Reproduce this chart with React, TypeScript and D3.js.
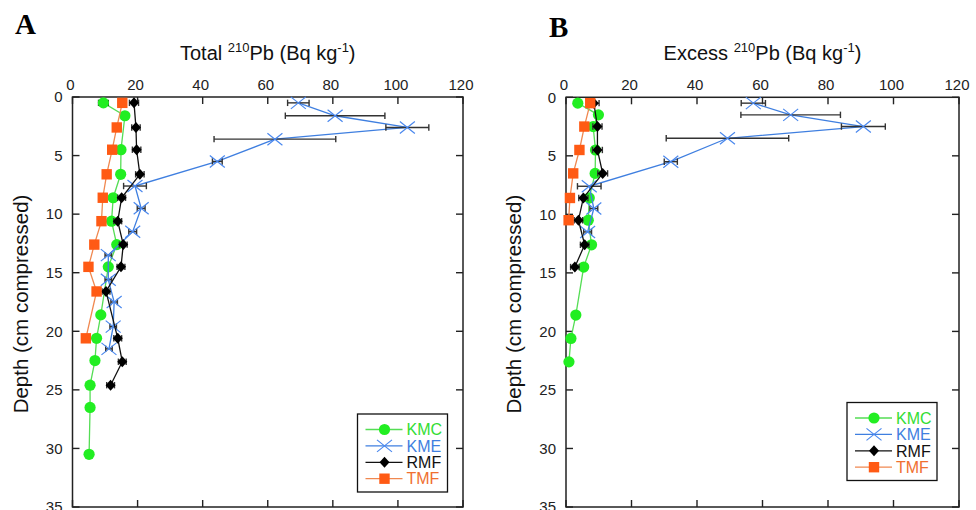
import { useEffect } from 'react';
import * as d3 from 'd3';

const xTicks = [0, 20, 40, 60, 80, 100, 120];
const depthTicks = [0, 5, 10, 15, 20, 25, 30, 35];

// Panel A: total 210Pb
const kmcDepthA = [0.5, 1.6, 4.5, 6.6, 8.6, 10.6, 12.6, 14.5, 18.6, 20.6, 22.5, 24.6, 26.5, 30.5];
const kmcTotal = [9.5, 16.1, 14.9, 14.8, 12.5, 12.0, 13.6, 11.0, 8.7, 7.4, 6.9, 5.4, 5.4, 5.1];
const kmcTotalErr = [1.5, 0.8, 0.8, 0.8, 0.8, 0.8, 0.8, 0.8, 0.8, 0.8, 0.8, 0.8, 0.8, 0.8];

const kmeDepthA = [0.5, 1.6, 2.6, 3.6, 5.5, 7.6, 9.5, 11.5, 13.5, 15.6, 17.5, 19.6, 21.5];
const kmeTotal = [69.4, 80.7, 102.9, 62.2, 44.5, 19.2, 21.1, 18.5, 11.0, 11.0, 12.8, 12.5, 11.2];
const kmeTotalErr = [3.3, 15.3, 6.6, 18.7, 1.5, 3.5, 1.2, 1.2, 1.0, 1.0, 1.0, 1.0, 1.0];

const rmfDepthA = [0.5, 2.6, 4.5, 6.6, 8.6, 10.6, 12.6, 14.5, 16.6, 20.6, 22.6, 24.6];
const rmfTotal = [18.9, 19.5, 19.7, 20.7, 15.1, 13.9, 15.6, 14.9, 10.3, 13.9, 15.3, 11.7];
const rmfTotalErr = [1.4, 1.3, 1.3, 1.3, 1.2, 1.2, 1.2, 1.2, 1.2, 1.2, 1.2, 1.2];

const tmfDepthA = [0.5, 2.6, 4.5, 6.6, 8.6, 10.6, 12.6, 14.5, 16.6, 20.6];
const tmfTotal = [15.3, 13.6, 12.2, 10.5, 9.3, 8.9, 6.7, 4.9, 7.4, 4.1];
const tmfTotalErr = [1.2, 1.2, 1.0, 1.0, 1.0, 1.0, 1.0, 1.0, 1.0, 1.0];

// Panel B: excess 210Pb
const kmcDepthB = [0.5, 1.5, 2.5, 4.5, 6.5, 8.6, 10.5, 12.6, 14.5, 18.6, 20.6, 22.6];
const kmcExcess = [3.6, 9.9, 8.3, 9.0, 8.9, 7.1, 6.8, 7.8, 5.4, 3.0, 1.5, 0.9];
const kmcExcessErr = [1.0, 0.8, 0.8, 0.8, 0.8, 0.8, 0.8, 0.8, 0.8, 0.8, 0.8, 0.8];

const kmeDepthB = [0.5, 1.5, 2.5, 3.5, 5.5, 7.6, 9.5, 11.5];
const kmeExcess = [57.2, 68.6, 90.8, 49.3, 32.0, 7.1, 8.5, 6.6];
const kmeExcessErr = [3.7, 15.2, 6.7, 18.7, 2.0, 3.6, 1.2, 1.2];

const rmfDepthB = [0.5, 2.5, 4.5, 6.5, 8.6, 10.5, 12.6, 14.5];
const rmfExcess = [8.5, 9.6, 9.6, 11.2, 5.3, 3.8, 5.7, 2.7];
const rmfExcessErr = [1.6, 1.4, 1.5, 1.5, 1.4, 1.3, 1.3, 1.3];

const tmfDepthB = [0.5, 2.5, 4.5, 6.5, 8.6, 10.5];
const tmfExcess = [7.4, 5.6, 4.1, 2.2, 1.2, 0.8];
const tmfExcessErr = [1.0, 1.0, 1.0, 1.0, 1.0, 1.0];

const seriesNames = ['KMC', 'KME', 'RMF', 'TMF'];

type Style = { line: string; marker: string; text: string; shape: string };
const styles: Record<string, Style> = {
  KMC: { line: '#55dd55', marker: '#22ee22', text: '#33dd33', shape: 'circle' },
  KME: { line: '#3f7fe0', marker: '#4a88ee', text: '#3f7fe0', shape: 'times' },
  RMF: { line: '#111111', marker: '#000000', text: '#111111', shape: 'diamond' },
  TMF: { line: '#f08850', marker: '#ff5a14', text: '#f07030', shape: 'square' },
};

type Series = { name: string; depth: number[]; value: number[]; err: number[] };

const panelA: Series[] = [
  { name: 'KMC', depth: kmcDepthA, value: kmcTotal, err: kmcTotalErr },
  { name: 'KME', depth: kmeDepthA, value: kmeTotal, err: kmeTotalErr },
  { name: 'RMF', depth: rmfDepthA, value: rmfTotal, err: rmfTotalErr },
  { name: 'TMF', depth: tmfDepthA, value: tmfTotal, err: tmfTotalErr },
];
const panelB: Series[] = [
  { name: 'KMC', depth: kmcDepthB, value: kmcExcess, err: kmcExcessErr },
  { name: 'KME', depth: kmeDepthB, value: kmeExcess, err: kmeExcessErr },
  { name: 'RMF', depth: rmfDepthB, value: rmfExcess, err: rmfExcessErr },
  { name: 'TMF', depth: tmfDepthB, value: tmfExcess, err: tmfExcessErr },
];

const FONT = "'Liberation Sans', Arial, Helvetica, sans-serif";

function Marker({ shape, x, y, color }: { shape: string; x: number; y: number; color: string }) {
  if (shape === 'circle') return <circle cx={x} cy={y} r={5.6} fill={color} />;
  if (shape === 'square') return <rect x={x - 5.2} y={y - 5.2} width={10.4} height={10.4} fill={color} />;
  if (shape === 'diamond')
    return <path d={`M${x},${y - 5.5}L${x + 5}, ${y}L${x},${y + 5.5}L${x - 5},${y}Z`} fill={color} />;
  const h = 7.5;
  return (
    <path
      d={`M${x - h},${y - h * 0.8}L${x + h},${y + h * 0.8}M${x - h},${y + h * 0.8}L${x + h},${y - h * 0.8}`}
      stroke={color}
      strokeWidth={1.2}
      fill="none"
    />
  );
}

type PanelProps = {
  letter: string;
  letterX: number;
  letterY: number;
  title: string;
  left: number;
  right: number;
  top: number;
  bottom: number;
  series: Series[];
  legendX: number;
  legendY: number;
};

function Panel({ letter, letterX, letterY, title, left, right, top, bottom, series, legendX, legendY }: PanelProps) {
  const x = d3.scaleLinear().domain([0, 120]).range([left, right]);
  const y = d3.scaleLinear().domain([0, 35]).range([top, bottom]);
  const tick = 7;
  const cx = (left + right) / 2;
  const cy = (top + bottom) / 2 + 2;

  return (
    <g fontFamily={FONT}>
      <text x={letterX} y={letterY} fontFamily="'Liberation Serif', 'Times New Roman', serif" fontWeight="bold" fontSize={29}>
        {letter}
      </text>
      <text x={cx} y={top - 37} textAnchor="middle" fontSize={20} fill="#111">
        {title + ' '}
        <tspan fontSize={13} dy={-8}>210</tspan>
        <tspan dy={8}>Pb (Bq kg</tspan>
        <tspan fontSize={13} dy={-8}>-1</tspan>
        <tspan dy={8}>)</tspan>
      </text>
      <text
        transform={`translate(${left - 45},${cy}) rotate(-90)`}
        textAnchor="middle"
        fontSize={20.5}
        fill="#111"
      >
        Depth (cm compressed)
      </text>

      {/* frame and inward ticks */}
      <rect x={left} y={top} width={right - left} height={bottom - top} fill="none" stroke="#222" strokeWidth={1.5} />
      {xTicks.map((t) => (
        <g key={'x' + t}>
          <line x1={x(t)} x2={x(t)} y1={top} y2={top + tick} stroke="#222" strokeWidth={1.4} />
          <line x1={x(t)} x2={x(t)} y1={bottom} y2={bottom - tick} stroke="#222" strokeWidth={1.4} />
          <text x={x(t) - 2} y={top - 7} textAnchor="middle" fontSize={15} fill="#222">
            {t}
          </text>
        </g>
      ))}
      {depthTicks.map((t) => (
        <g key={'y' + t}>
          <line x1={left} x2={left + tick} y1={y(t)} y2={y(t)} stroke="#222" strokeWidth={1.4} />
          <line x1={right} x2={right - tick} y1={y(t)} y2={y(t)} stroke="#222" strokeWidth={1.4} />
          <text x={left - 10} y={y(t)} dy="0.35em" textAnchor="end" fontSize={15} fill="#222">
            {t}
          </text>
        </g>
      ))}

      {/* series */}
      {series.map((s) => {
        const st = styles[s.name];
        const pts = s.depth.map((d, i) => [s.value[i], d] as [number, number]);
        const line = d3
          .line<[number, number]>()
          .x((p) => x(p[0]))
          .y((p) => y(p[1]));
        return (
          <g key={s.name}>
            <path d={line(pts) ?? ''} fill="none" stroke={st.line} strokeWidth={1.3} />
            {pts.map((p, i) => {
              const x0 = x(p[0] - s.err[i]);
              const x1 = x(p[0] + s.err[i]);
              const yy = y(p[1]);
              return (
                <g key={i} stroke="#333" strokeWidth={1.4}>
                  <line x1={x0} x2={x1} y1={yy} y2={yy} />
                  <line x1={x0} x2={x0} y1={yy - 3.2} y2={yy + 3.2} />
                  <line x1={x1} x2={x1} y1={yy - 3.2} y2={yy + 3.2} />
                </g>
              );
            })}
            {pts.map((p, i) => (
              <Marker key={i} shape={st.shape} x={x(p[0])} y={y(p[1])} color={st.marker} />
            ))}
          </g>
        );
      })}

      {/* legend */}
      <rect x={legendX} y={legendY} width={90} height={78} fill="#fff" stroke="#111" strokeWidth={1.3} />
      {seriesNames.map((n, i) => {
        const st = styles[n];
        const ly = legendY + 15.5 + i * 16.4;
        return (
          <g key={n}>
            <line x1={legendX + 8} x2={legendX + 45} y1={ly} y2={ly} stroke={st.line} strokeWidth={1.3} />
            <Marker shape={st.shape} x={legendX + 27} y={ly} color={st.marker} />
            <text x={legendX + 49} y={ly} dy="0.36em" fontSize={16} fill={st.text}>
              {n}
            </text>
          </g>
        );
      })}
    </g>
  );
}

export default function App() {
  useEffect(() => {
    document.body.style.margin = '0';
  }, []);

  return (
    <svg width={976} height={510} style={{ display: 'block', background: '#fff' }}>
      <Panel
        letter="A"
        letterX={15}
        letterY={34}
        title="Total"
        left={72.5}
        right={463}
        top={97}
        bottom={507}
        series={panelA}
        legendX={357.5}
        legendY={414}
      />
      <Panel
        letter="B"
        letterX={549}
        letterY={37}
        title="Excess"
        left={566}
        right={959}
        top={97.3}
        bottom={507}
        series={panelB}
        legendX={847}
        legendY={402.5}
      />
    </svg>
  );
}
